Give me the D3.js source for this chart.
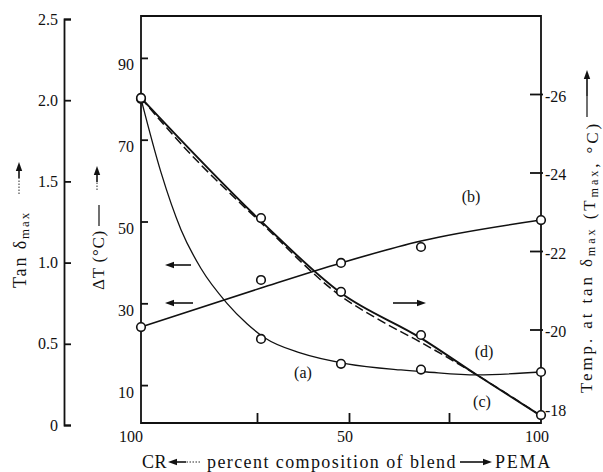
<!DOCTYPE html>
<html>
<head>
<meta charset="utf-8">
<script src="https://cdn.jsdelivr.net/npm/d3@7"></script>
<style>
  body { margin: 0; background: #fff; }
  svg text { font-family: "Liberation Serif", "Times New Roman", serif; fill: #111; }
</style>
</head>
<body>
<div id="chart"></div>
<script>
// blend composition, % PEMA (0 = pure CR)
var pct = [0, 30, 50, 70, 100];

// measured points
var dtA = [80, 21.3, 15.2, 13.8, 13.2];              // (a) ΔT, °C
var tanB = [0.603, 0.893, 0.998, 1.096, 1.262];      // (b) tan δmax
var tmaxCD = [-25.9, -22.84, -20.96, -19.86, -17.82]; // (c),(d) Tmax, °C

// drawn curves
var aLinePct = [0, 5, 10, 15, 21.5, 26.5, 31, 40, 51.5, 65, 71.5, 84, 100];
var aLineDT = [80, 62, 48, 38.5, 30, 25, 21.5, 17.8, 15.2, 13.7, 13.2, 12.5, 13.2];
var bLinePct = [0, 30, 50, 70, 100];
var bLineTan = [0.603, 0.844, 0.998, 1.133, 1.262];
var dLinePct = [0, 30, 50, 70, 84, 100];
var dLineT = [-25.9, -22.76, -20.93, -19.78, -18.84, -17.8];
var cLinePct = [0, 10, 30, 50, 60, 70, 84, 100];
var cLineT = [-25.9, -24.73, -22.72, -20.85, -20.22, -19.67, -18.84, -17.8];

// axes
var tanTicks = [0, 0.5, 1.0, 1.5, 2.0, 2.5];
var dtTicks = [10, 30, 50, 70, 90];
var tempTicks = [-26, -24, -22, -20, -18];
var xTicks = [29, 52, 77];
var xLabelPct = [0, 52, 100];
var xLabelText = ['100', '50', '100'];
var curveNames = ['(a)', '(b)', '(c)', '(d)'];

var svgWidth = 603,
    svgHeight = 472,
    box = { left: 141, right: 541, top: 16, bottom: 423 };

var x = d3.scaleLinear().domain([0, 100]).range([box.left, box.right]),
    yDT = d3.scaleLinear().domain([0, 100]).range([426, 17]),
    yTan = d3.scaleLinear().domain([0, 2.5]).range([425, 19]),
    yT = d3.scaleLinear().domain([-18, -26]).range([408, 94]);

var svg = d3.select('#chart').append('svg')
    .attr('width', svgWidth)
    .attr('height', svgHeight);

drawAxes(svg);
drawCurves(svg);
drawTitles(svg);

function drawAxes(svg) {
    // plot frame
    svg.append('path')
        .attr('d', 'M' + box.left + ',' + box.top + 'H' + box.right + 'V' + box.bottom + 'H' + box.left + 'Z')
        .attr('fill', 'none')
        .attr('stroke', '#111')
        .attr('stroke-width', 1.8);

    // outer tan δ axis
    var tanAxis = svg.append('g')
        .attr('transform', 'translate(64,0)')
        .call(d3.axisLeft(yTan).tickValues(tanTicks).tickSizeInner(-7).tickSizeOuter(-7).tickPadding(6)
            .tickFormat(function (d) { return d === 0 ? '0' : d.toFixed(1); }));
    styleAxis(tanAxis);

    // ΔT axis on the frame
    var dtAxis = svg.append('g')
        .attr('transform', 'translate(' + box.left + ',0)')
        .call(d3.axisLeft(yDT).tickValues(dtTicks).tickSizeInner(-7).tickPadding(7));
    styleAxis(dtAxis);
    dtAxis.select('.domain').remove();
    dtAxis.selectAll('text').attr('dy', '0.75em');

    // Tmax axis on the right
    var tAxis = svg.append('g')
        .attr('transform', 'translate(' + box.right + ',0)')
        .call(d3.axisRight(yT).tickValues(tempTicks).tickSizeInner(-11).tickPadding(4)
            .tickFormat(function (d) { return String(d); }));
    styleAxis(tAxis);
    tAxis.select('.domain').remove();
    tAxis.selectAll('.tick line').attr('x2', -11).attr('x1', 2);
    tAxis.selectAll('text').attr('dy', '0.45em');
    tAxis.selectAll('.tick').filter(function (d) { return d === -18; }).select('line').remove();

    // composition ticks along the bottom
    var xAxis = svg.append('g')
        .attr('transform', 'translate(0,' + box.bottom + ')')
        .call(d3.axisBottom(x).tickValues(xTicks).tickSizeInner(-10).tickFormat(''));
    styleAxis(xAxis);
    xAxis.select('.domain').remove();

    svg.selectAll('.xlab')
        .data(xLabelPct)
        .enter().append('text')
        .attr('class', 'xlab')
        .attr('x', function (d, i) { return i === 0 ? x(d) + 2 : x(d) - 4; })
        .attr('y', 442)
        .attr('text-anchor', function (d, i) { return i === 0 ? 'end' : 'middle'; })
        .attr('font-size', 16)
        .text(function (d, i) { return xLabelText[i]; });
}

function styleAxis(g) {
    g.attr('font-size', 16).attr('font-family', null);
    g.selectAll('path, line').attr('stroke', '#111').attr('stroke-width', 1.8);
    g.selectAll('text').attr('fill', '#111');
}

function zip(a, b) {
    return a.map(function (d, i) { return [d, b[i]]; });
}

function drawCurves(svg) {
    var lineDT = d3.line().x(function (d) { return x(d[0]); }).y(function (d) { return yDT(d[1]); }).curve(d3.curveMonotoneX),
        lineTan = d3.line().x(function (d) { return x(d[0]); }).y(function (d) { return yTan(d[1]); }).curve(d3.curveMonotoneX),
        lineT = d3.line().x(function (d) { return x(d[0]); }).y(function (d) { return yT(d[1]); }).curve(d3.curveMonotoneX);

    var lines = svg.append('g').attr('fill', 'none').attr('stroke', '#111');
    lines.append('path').attr('d', lineDT(zip(aLinePct, aLineDT))).attr('stroke-width', 1.3);
    lines.append('path').attr('d', lineTan(zip(bLinePct, bLineTan))).attr('stroke-width', 1.6);
    lines.append('path').attr('d', lineT(zip(cLinePct, cLineT))).attr('stroke-width', 1.5)
        .attr('stroke-dasharray', '9,4');
    lines.append('path').attr('d', lineT(zip(dLinePct, dLineT))).attr('stroke-width', 1.9);

    var pts = [];
    pct.forEach(function (p, i) {
        pts.push([x(p), yDT(dtA[i])]);
        pts.push([x(p), yTan(tanB[i])]);
        pts.push([x(p), yT(tmaxCD[i])]);
    });
    svg.append('g').selectAll('circle')
        .data(pts)
        .enter().append('circle')
        .attr('cx', function (d) { return d[0]; })
        .attr('cy', function (d) { return d[1]; })
        .attr('r', 4.3)
        .attr('fill', '#fff')
        .attr('stroke', '#111')
        .attr('stroke-width', 1.6);

    // curve labels
    var labelAt = [[303, 378], [471, 202], [482, 407], [484, 357]];
    svg.selectAll('.clab')
        .data(curveNames)
        .enter().append('text')
        .attr('class', 'clab')
        .attr('x', function (d, i) { return labelAt[i][0]; })
        .attr('y', function (d, i) { return labelAt[i][1]; })
        .attr('text-anchor', 'middle')
        .attr('font-size', 16)
        .text(function (d) { return d; });

    // axis pointers
    arrow(svg, 191, 265, 165, 265);
    arrow(svg, 193, 303, 165, 303);
    arrow(svg, 393, 303, 426, 303);
}

function arrow(g, x1, y1, x2, y2, dotted) {
    var dx = x2 - x1, dy = y2 - y1,
        len = Math.sqrt(dx * dx + dy * dy),
        ux = dx / len, uy = dy / len,
        hl = 9, hw = 3.2,
        bx = x2 - ux * hl, by = y2 - uy * hl;
    if (dotted) {
        var mx = x1 + ux * dotted, my = y1 + uy * dotted;
        g.append('line').attr('x1', x1).attr('y1', y1).attr('x2', mx).attr('y2', my)
            .attr('stroke', '#111').attr('stroke-width', 0.9).attr('stroke-dasharray', '1.5,1.5');
        x1 = mx; y1 = my;
    }
    g.append('line').attr('x1', x1).attr('y1', y1).attr('x2', bx).attr('y2', by)
        .attr('stroke', '#111').attr('stroke-width', 1.6);
    g.append('path')
        .attr('d', 'M' + x2 + ',' + y2 +
            'L' + (bx - uy * hw) + ',' + (by + ux * hw) +
            'L' + (bx + uy * hw) + ',' + (by - ux * hw) + 'Z')
        .attr('fill', '#111');
}

function fitWidth(sel, target) {
    var node = sel.node(),
        len = node.getComputedTextLength(),
        n = node.textContent.length;
    if (n > 1) sel.attr('letter-spacing', ((target - len) / n).toFixed(2));
}

function vtitle(svg, xPos, yStart, parts, size, target) {
    var t = svg.append('text')
        .attr('transform', 'translate(' + xPos + ',' + yStart + ') rotate(-90)')
        .attr('font-size', size);
    parts.forEach(function (p) {
        if (p.sub) {
            t.append('tspan').attr('font-size', size * 0.72).attr('dy', 3).text(p.text);
            t.append('tspan').attr('dy', -3).text('');
        } else {
            t.append('tspan').text(p.text);
        }
    });
    fitWidth(t, target);
    return t;
}

function drawTitles(svg) {
    vtitle(svg, 26, 288, [{ text: 'Tan δ' }, { text: 'max', sub: true }], 18, 77);
    arrow(svg, 19, 194, 19, 162, 16);

    vtitle(svg, 104, 290, [{ text: 'ΔT (°C)' }], 17, 60);
    svg.append('line').attr('x1', 99).attr('y1', 226).attr('x2', 99).attr('y2', 205)
        .attr('stroke', '#111').attr('stroke-width', 1.2);
    arrow(svg, 97, 190, 97, 166, 8);

    vtitle(svg, 592, 393, [{ text: 'Temp. at tan δ' }, { text: 'max', sub: true },
        { text: ' (T' }, { text: 'max', sub: true }, { text: ', °C)' }], 17, 272);
    svg.append('line').attr('x1', 587).attr('y1', 117).attr('x2', 587).attr('y2', 96)
        .attr('stroke', '#111').attr('stroke-width', 1.2);
    arrow(svg, 587, 96, 587, 70);

    // bottom caption
    var cap = svg.append('g').attr('font-size', 18);
    fitWidth(cap.append('text').attr('x', 142).attr('y', 468).text('CR'), 25);
    arrow(svg, 200, 462, 168, 462, 14);
    fitWidth(cap.append('text').attr('x', 207).attr('y', 468).text('percent composition of blend'), 250);
    arrow(svg, 460, 462, 492, 462);
    fitWidth(cap.append('text').attr('x', 495).attr('y', 468).text('PEMA'), 57);
}
</script>
</body>
</html>
